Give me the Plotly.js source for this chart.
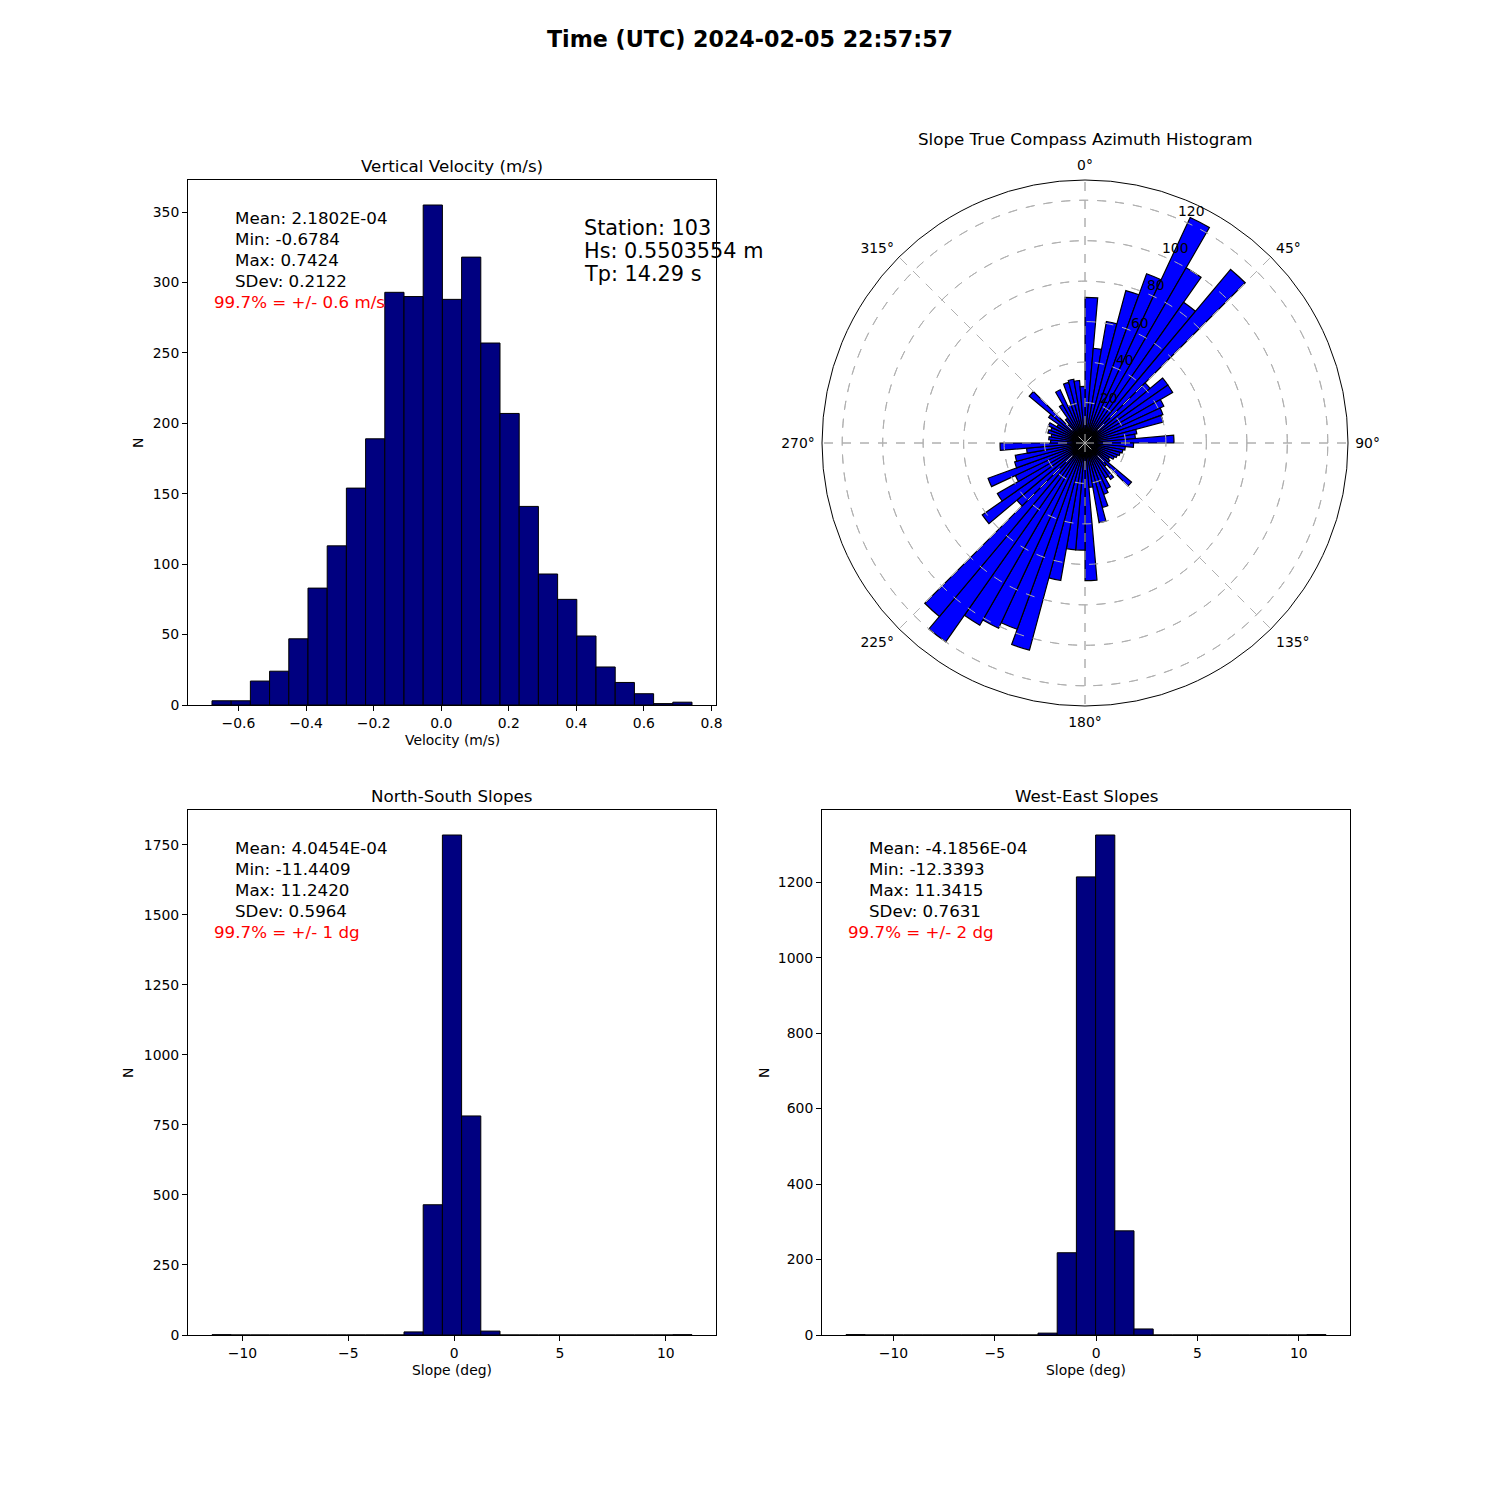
<!DOCTYPE html>
<html><head><meta charset="utf-8">
<script src="https://cdn.plot.ly/plotly-3.0.1.min.js"></script>
<style>body{margin:0;background:#fff}#chart{width:1500px;height:1500px}</style>
</head><body><div id="chart"></div>
<script>
// ---------------- DATA ----------------
const suptitle = 'Time (UTC) 2024-02-05 22:57:57';

const velMin = -0.6784, velMax = 0.7424;
const velCounts = [3,3,17,24,47,83,113,154,189,293,290,355,288,318,257,207,141,93,75,49,27,16,8,1,2];
const velStats = ['Mean: 2.1802E-04','Min: -0.6784','Max: 0.7424','SDev: 0.2122'];
const velConf = '99.7% = +/- 0.6 m/s';
const stationText = ['Station: 103','Hs: 0.5503554 m','Tp: 14.29 s'];

const nsMin = -11.4409, nsMax = 11.2420;
const nsCounts = [1,0,0,0,0,0,0,0,0,0,11,465,1785,782,14,0,0,0,0,0,0,0,0,0,1];
const nsStats = ['Mean: 4.0454E-04','Min: -11.4409','Max: 11.2420','SDev: 0.5964'];
const nsConf = '99.7% = +/- 1 dg';

const weMin = -12.3393, weMax = 11.3415;
const weCounts = [1,0,0,0,0,0,0,0,0,0,5,218,1214,1325,276,16,0,0,0,0,0,0,0,0,1];
const weStats = ['Mean: -4.1856E-04','Min: -12.3393','Max: 11.3415','SDev: 0.7631'];
const weConf = '99.7% = +/- 2 dg';

const azBinWidth = 5;
const azCounts = [72,47,61,78,89,123,100,85,112,42,50,50,43,41,40,26,25,44,
                  24,20,19,18,17,16,14,15,30,15,22,20,25,27,33,40,22,68,
                  53,53,69,106,98,101,104,120,112,44,62,50,38,51,36,35,29,42,
                  17,18,17,19,18,20,16,22,36,12,15,22,29,20,31,32,31,28];
const azTicks = [0,45,90,135,180,225,270,315];
const rTicks = [20,40,60,80,100,120];
const rMax = 130;
const rLabelAngle = 22.5;

// ---------------- HELPERS ----------------
const W = 1500, H = 1500;
const px = x => x / W;
const py = y => 1 - y / H;
function centers(min, max, n) {
  const w = (max - min) / n;
  return {w, c: Array.from({length: n}, (_, i) => min + (i + 0.5) * w)};
}
const FONT = 'DejaVu Sans, Verdana, sans-serif';

function histTrace(min, max, counts, xa, ya) {
  const b = centers(min, max, counts.length);
  return {type: 'bar', x: b.c, y: counts, width: b.w, xaxis: xa, yaxis: ya,
    marker: {color: '#000080', line: {color: '#000000', width: 1}}, hoverinfo: 'x+y', showlegend: false};
}

const thetaC = azCounts.map((_, i) => (i + 0.5) * azBinWidth);

const traces = [
  histTrace(velMin, velMax, velCounts, 'x', 'y'),
  histTrace(nsMin, nsMax, nsCounts, 'x2', 'y2'),
  histTrace(weMin, weMax, weCounts, 'x3', 'y3'),
  {type: 'barpolar', r: azCounts, theta: thetaC, width: azBinWidth, subplot: 'polar',
   marker: {color: '#0000ff', line: {color: '#000000', width: 1.2}}, showlegend: false},
  {type: 'scatterpolar', r: [0], theta: [0], mode: 'markers', subplot: 'polar2',
   marker: {opacity: 0}, hoverinfo: 'skip', showlegend: false}
];

function cartAxis(domain, anchor, range, extra) {
  return Object.assign({domain, anchor, range, showline: true, mirror: true, linecolor: '#000', linewidth: 1,
    ticks: 'outside', ticklen: 5, tickcolor: '#000', showgrid: false, zeroline: false,
    tickfont: {family: FONT, size: 13.9, color: '#000'}}, extra || {});
}

const ann = [];
function txt(text, x, y, size, opts) {
  ann.push(Object.assign({text, x: px(x), y: py(y), xref: 'paper', yref: 'paper', showarrow: false,
    xanchor: 'left', yanchor: 'middle', font: {family: FONT, size, color: '#000'}}, opts || {}));
}
function statBlock(lines, conf, xl, xr, y0) {
  lines.forEach((l, i) => txt(l, xl - 2, y0 + i * 20.9, 16.7));
  txt(conf, xr - 2, y0 + 4 * 20.9, 16.7, {font: {family: FONT, size: 16.7, color: '#ff0000'}});
}
statBlock(velStats, velConf, 235, 214, 218);
stationText.forEach((l, i) => txt(l, 582, 228 + i * 23.2, 20.8));
statBlock(nsStats, nsConf, 235, 214, 848);
statBlock(weStats, weConf, 869, 848, 848);

// subplot titles
txt('Vertical Velocity (m/s)', 452, 166, 16.7, {xanchor: 'center'});
txt('Slope True Compass Azimuth Histogram', 1085, 139, 16.7, {xanchor: 'center'});
txt('North-South Slopes', 452, 796, 16.7, {xanchor: 'center'});
txt('West-East Slopes', 1086, 796, 16.7, {xanchor: 'center'});
// axis labels
txt('Velocity (m/s)', 452, 740, 13.9, {xanchor: 'center'});
txt('Slope (deg)', 452, 1370, 13.9, {xanchor: 'center'});
txt('Slope (deg)', 1086, 1370, 13.9, {xanchor: 'center'});
txt('N', 138, 443, 13.9, {xanchor: 'center', textangle: -90});
txt('N', 128, 1073, 13.9, {xanchor: 'center', textangle: -90});
txt('N', 764, 1073, 13.9, {xanchor: 'center', textangle: -90});

// polar geometry (pixels)
const polarPx = {x0: 822, x1: 1348, y0: 180, y1: 706};
const pcx = (polarPx.x0 + polarPx.x1) / 2, pcy = (polarPx.y0 + polarPx.y1) / 2;
const pR = Math.min(polarPx.x1 - polarPx.x0, polarPx.y1 - polarPx.y0) / 2;
// radial tick labels, placed matplotlib-style at 22.5 deg
const rad = rLabelAngle * Math.PI / 180;
rTicks.forEach(v => {
  const d = v / rMax * pR;
  ann.push({text: String(v), x: px(pcx + d * Math.sin(rad) - 2), y: py(pcy - d * Math.cos(rad) + 2),
    xref: 'paper', yref: 'paper', showarrow: false, xanchor: 'left', yanchor: 'bottom',
    font: {family: FONT, size: 13.9, color: '#000'}});
});

const polarDomain = {x: [px(polarPx.x0), px(polarPx.x1)], y: [py(polarPx.y1), py(polarPx.y0)]};
const gridCol = '#b0b0b0';

const layout = {
  width: W, height: H, margin: {l: 0, r: 0, t: 0, b: 0},
  paper_bgcolor: '#fff', plot_bgcolor: '#fff', bargap: 0,
  font: {family: FONT, color: '#000'},
  title: {text: '<b>' + suptitle + '</b>', x: 0.5, xanchor: 'center', xref: 'paper',
          y: py(39), yanchor: 'middle', yref: 'container', font: {family: FONT, size: 22.2, color: '#000'}},
  xaxis: cartAxis([px(188), px(716)], 'y', [-0.7494, 0.8134],
                  {tickvals: [-0.6,-0.4,-0.2,0,0.2,0.4,0.6,0.8], tickformat: '.1f'}),
  yaxis: cartAxis([py(705), py(180)], 'x', [0, 372.75], {tickvals: [0,50,100,150,200,250,300,350]}),
  xaxis2: cartAxis([px(188), px(716)], 'y2', [-12.575, 12.376], {tickvals: [-10,-5,0,5,10]}),
  yaxis2: cartAxis([py(1335), py(810)], 'x2', [0, 1874.25], {tickvals: [0,250,500,750,1000,1250,1500,1750]}),
  xaxis3: cartAxis([px(822), px(1350)], 'y3', [-13.5233, 12.5255], {tickvals: [-10,-5,0,5,10]}),
  yaxis3: cartAxis([py(1335), py(810)], 'x3', [0, 1391.25], {tickvals: [0,200,400,600,800,1000,1200]}),
  polar: {
    domain: polarDomain, bgcolor: 'rgba(0,0,0,0)', bargap: 0,
    radialaxis: {range: [0, rMax], tickvals: rTicks, showline: false, ticks: '', showticklabels: false,
                 showgrid: true, gridcolor: gridCol, griddash: 'dash'},
    angularaxis: {rotation: 90, direction: 'clockwise', tickvals: azTicks, ticktext: azTicks.map(t => t + '°'),
                  showline: true, linecolor: '#000', linewidth: 1, showgrid: true, gridcolor: gridCol,
                  griddash: 'dash', ticks: 'outside', ticklen: 4, tickcolor: 'rgba(0,0,0,0)',
                  tickfont: {family: FONT, size: 13.9, color: '#000'}, layer: 'above traces'}
  },
  polar2: {
    domain: polarDomain, bgcolor: 'rgba(0,0,0,0)',
    radialaxis: {range: [0, rMax], tickvals: rTicks, showline: false, showticklabels: false, ticks: '',
                 showgrid: true, gridcolor: gridCol, griddash: 'dash'},
    angularaxis: {rotation: 90, direction: 'clockwise', tickvals: azTicks, showline: false,
                  showticklabels: false, ticks: '', showgrid: true, gridcolor: gridCol, griddash: 'dash'}
  },
  annotations: ann
};

Plotly.newPlot('chart', traces, layout, {staticPlot: true});
</script>
</body></html>
